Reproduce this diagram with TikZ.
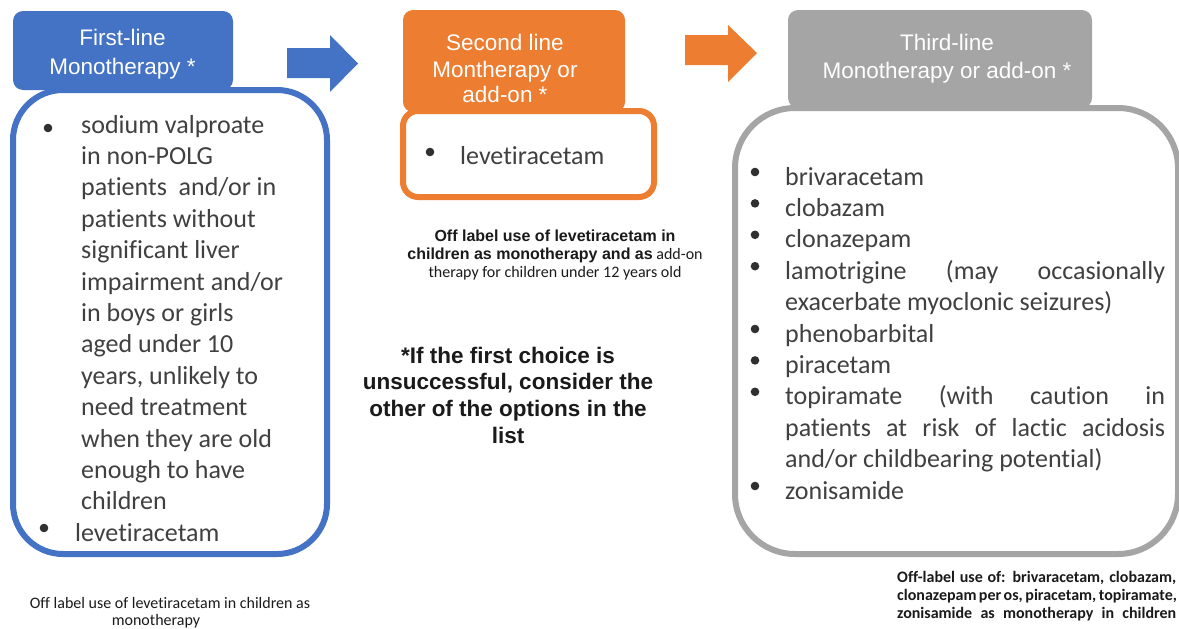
\documentclass[tikz,border=0pt]{standalone}
\usepackage{fontspec}
\setmainfont{Carlito}[Ligatures=NoCommon]
\newfontfamily\arialf{Liberation Sans}
\definecolor{cblue}{HTML}{4472C4}
\definecolor{corange}{HTML}{ED7D31}
\definecolor{cgrey}{HTML}{A5A5A5}
\definecolor{ctext}{HTML}{404040}
\definecolor{cbullet}{HTML}{303030}
\definecolor{cnote}{HTML}{1A1A1A}
\begin{document}
\begin{tikzpicture}[x=1pt,y=-1pt,
  hdrtext/.style={anchor=base, inner sep=0pt, text=white, font=\arialf\fontsize{22.5}{27}\selectfont},
  item/.style={anchor=base west, inner sep=0pt, text=ctext, font=\fontsize{26}{31.4}\selectfont},
  boldnote/.style={anchor=base, inner sep=0pt, text=cnote, font=\arialf\bfseries\fontsize{22.5}{27}\selectfont},
  smallnote/.style={anchor=base, inner sep=0pt, text=cnote, font=\fontsize{16}{18}\selectfont},
  bul/.style={fill=cbullet},
  panel/.style={draw=#1, line width=6pt, fill=white},
  hdr/.style={fill=#1, rounded corners=10pt}]
\useasboundingbox (0,0) rectangle (1179,629);
\clip (0,0) rectangle (1179,629);
\fill[white] (0,0) rectangle (1179,629);

% ---------- first line (blue)
\draw[panel=cblue, rounded corners=50pt] (13,90) rectangle (327,554);
\path[hdr=cblue] (13,11) rectangle (233,90);
\node[hdrtext] (h1a) at (122.5,45.5) {First-line};
\node[hdrtext] (h1b) at (122.5,74) {Monotherapy *};
\foreach \t [count=\i from 0] in {sodium valproate, in non-POLG, {patients\ \ and/or in}, patients without, significant liver, impairment and/or, in boys or girls, aged under 10, {years, unlikely to}, need treatment, when they are old, enough to have, children}
  \node[item] (b\i) at (81,133+31.4*\i) {\t};
\node[item] (b13) at (75,541) {levetiracetam};
\fill[bul] (48,128) circle (4.3pt);
\fill[bul] (44,528) circle (4.3pt);

% blue block arrow
\fill[cblue] (287,48) -- (330,48) -- (330,35) -- (358,63.5) -- (330,92) -- (330,78) -- (287,78) -- cycle;

% ---------- second line (orange)
\path[hdr=corange] (403,10) rectangle (625,112);
\draw[panel=corange, rounded corners=15pt] (403,111) rectangle (654,197);
\node[hdrtext] (h2a) at (505,50) {Second line};
\node[hdrtext] (h2b) at (505,77) {Montherapy or};
\node[hdrtext] (h2c) at (505,102.5) {add-on *};
\node[item] (o1) at (460,164) {levetiracetam};
\fill[bul] (430,152) circle (4.3pt);

% orange block arrow
\fill[corange] (685,35) -- (728,35) -- (728,25) -- (757,53) -- (728,82) -- (728,65) -- (685,65) -- cycle;

% middle notes
\node[smallnote, font=\arialf\bfseries\fontsize{16}{18}\selectfont] (m1) at (555,241) {Off label use of levetiracetam in};
\node[smallnote] (m2) at (555,259) {{\arialf\bfseries children as monotherapy and as} add-on};
\node[smallnote] (m3) at (555,277) {therapy for children under 12 years old};

\foreach \t [count=\i from 0] in {*If the first choice is, {unsuccessful, consider the}, other of the options in the, list}
  \node[boldnote] (c\i) at (508,363+26.8*\i) {\t};

% ---------- third line (grey)
\draw[panel=cgrey, rounded corners=60pt] (735,108) rectangle (1178,554);
\path[hdr=cgrey] (788,10) rectangle (1092,108);
\node[hdrtext] (h3a) at (947,50) {Third-line};
\node[hdrtext] (h3b) at (947,78) {Monotherapy or add-on *};

\node[item] (g0) at (785,185) {brivaracetam};
\node[item] (g1) at (785,216.4) {clobazam};
\node[item] (g2) at (785,247.8) {clonazepam};
\node[item] (g3) at (785,279.2) {\makebox[380pt][s]{lamotrigine (may occasionally}};
\node[item] (g4) at (785,310.6) {exacerbate myoclonic seizures)};
\node[item] (g5) at (785,342) {phenobarbital};
\node[item] (g6) at (785,373.4) {piracetam};
\node[item] (g7) at (785,404.8) {\makebox[380pt][s]{topiramate (with caution in}};
\node[item] (g8) at (785,436.2) {\makebox[380pt][s]{patients at risk of lactic acidosis}};
\node[item] (g9) at (785,467.6) {and/or childbearing potential)};
\node[item] (g10) at (785,499) {zonisamide};
\foreach \y in {172,203.4,234.8,266.2,329,360.4,391.8,486}
  \fill[bul] (755,\y) circle (4.3pt);

% notes bottom
\node[smallnote] (n1) at (170,608) {Off label use of levetiracetam in children as};
\node[smallnote] (n2) at (156,625) {monotherapy};
\node[smallnote, anchor=base west, font=\bfseries\fontsize{16}{18}\selectfont] (r1) at (897,582) {\makebox[279pt][s]{Off-label use of: brivaracetam, clobazam,}};
\node[smallnote, anchor=base west, font=\bfseries\fontsize{16}{18}\selectfont] (r2) at (897,600) {\makebox[279pt][s]{clonazepam per os, piracetam, topiramate,}};
\node[smallnote, anchor=base west, font=\bfseries\fontsize{16}{18}\selectfont] (r3) at (897,618) {\makebox[279pt][s]{zonisamide as monotherapy in children}};
\end{tikzpicture}
\end{document}
